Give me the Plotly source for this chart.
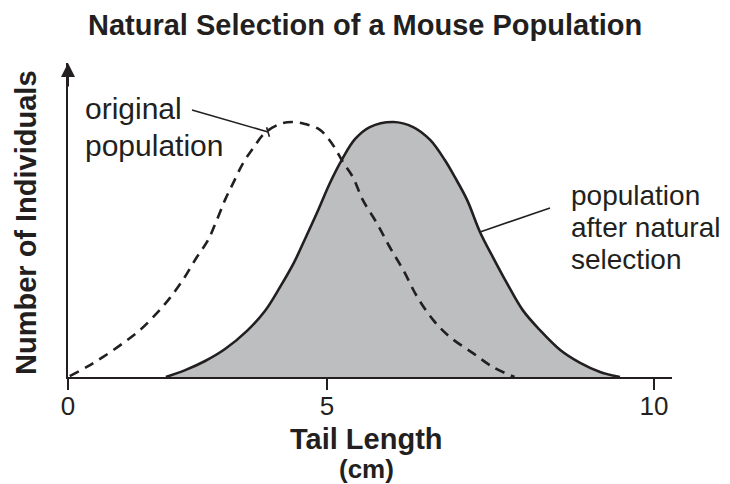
import plotly.graph_objects as go

# ---- data (x in axis units, y in relative counts 0-100) ----
orig_x = [0.03, 0.32, 0.60, 0.94, 1.23, 1.52, 1.74, 1.96, 2.20, 2.39, 2.54, 2.68, 2.82, 2.99,
          3.16, 3.36, 3.62, 3.82, 4.04, 4.30, 4.52, 4.69, 4.86, 5.03, 5.27, 5.49, 5.72, 5.96,
          6.23, 6.52, 6.91, 7.25, 7.62]
orig_y = [0.3, 3.2, 6.4, 10.8, 15.0, 20.4, 25.2, 30.9, 38.2, 43.6, 50.0, 56.4, 61.8, 68.2,
          72.9, 77.7, 80.6, 81.2, 80.6, 78.7, 73.9, 68.5, 63.7, 56.4, 49.0, 41.4, 34.1, 25.5,
          18.2, 12.7, 7.6, 3.2, 0.0]

sel_x = [1.67, 2.00, 2.34, 2.68, 3.05, 3.36, 3.62, 3.86, 4.06, 4.27, 4.47, 4.68, 4.90, 5.15,
         5.55, 5.89, 6.18, 6.43, 6.60, 6.81, 7.03, 7.25, 7.49, 7.76, 8.05, 8.40, 8.74, 9.08, 9.42]
sel_y = [0.0, 2.2, 5.1, 8.9, 14.6, 21.0, 28.7, 36.6, 44.6, 53.2, 61.8, 69.4, 75.8, 79.6,
         81.2, 79.6, 75.5, 69.1, 63.7, 56.4, 46.2, 38.2, 29.9, 21.3, 15.0, 8.6, 4.5, 1.6, 0.0]

tick_vals = [0, 4.42, 10]
tick_text = ["0", "5", "10"]

title_text = "Natural Selection of a Mouse Population"
x_title = "Tail Length"
x_unit = "(cm)"
y_title = "Number of Individuals"
label_orig = ["original", "population"]
label_sel = ["population", "after natural", "selection"]

INK = "#231f20"
FILL = "#bcbec0"
FONT = "Liberation Sans, Arial, sans-serif"

# the page body adds an 8px offset; size the figure so it fits the 730x484 window
OFF = 8
W, H = 730 - OFF, 484 - OFF
PL, PR, PT, PB = 68, 672, 63, 377          # plot area in window pixels
L, T = PL - OFF, PT - OFF
R, B = W - (PR - OFF), H - (PB - OFF)
PW, PH = PR - PL, PB - PT


def px(xp):
    return (xp - PL) / PW


def py(yp):
    return (PB - yp) / PH


fig = go.Figure()
fig.add_trace(go.Scatter(
    x=sel_x, y=sel_y, mode="lines", line=dict(color=INK, width=2.6, shape="spline", smoothing=1),
    fill="tozeroy", fillcolor=FILL, hoverinfo="skip", showlegend=False))
fig.add_trace(go.Scatter(
    x=orig_x, y=orig_y, mode="lines",
    line=dict(color=INK, width=2.6, dash="10px,7px", shape="spline", smoothing=1),
    hoverinfo="skip", showlegend=False))

ann = []
ann.append(dict(text="<b>" + title_text + "</b>", xref="paper", yref="paper", x=px(365), y=py(25),
                xanchor="center", yanchor="middle", showarrow=False, font=dict(size=29, color=INK)))
ann.append(dict(text="<b>" + y_title + "</b>", xref="paper", yref="paper", x=px(26), y=py(223),
                xanchor="center", yanchor="middle", textangle=-90, showarrow=False,
                font=dict(size=29, color=INK)))
ann.append(dict(text="<b>" + x_title + "</b>", xref="paper", yref="paper", x=px(366), y=py(439),
                xanchor="center", yanchor="middle", showarrow=False, font=dict(size=29, color=INK)))
ann.append(dict(text="<b>" + x_unit + "</b>", xref="paper", yref="paper", x=px(366), y=py(469),
                xanchor="center", yanchor="middle", showarrow=False, font=dict(size=26, color=INK)))
for t, yy in zip(label_orig, [108, 145]):
    ann.append(dict(text=t, xref="paper", yref="paper", x=px(83), y=py(yy), xanchor="left",
                    yanchor="middle", showarrow=False, font=dict(size=30, color=INK)))
for t, yy in zip(label_sel, [195, 227, 259]):
    ann.append(dict(text=t, xref="paper", yref="paper", x=px(569), y=py(yy), xanchor="left",
                    yanchor="middle", showarrow=False, font=dict(size=28, color=INK)))
# y-axis arrow head
ann.append(dict(text="", x=0, y=100, ax=0, ay=92, xref="x", yref="y", axref="x", ayref="y",
                showarrow=True, arrowhead=2, arrowsize=1.4, arrowwidth=2, arrowcolor=INK, standoff=0))

shapes = [
    dict(type="line", xref="paper", yref="paper", x0=px(192), y0=py(110), x1=px(268), y1=py(132),
         line=dict(color=INK, width=1.6)),
    dict(type="line", xref="paper", yref="paper", x0=px(266.6), y0=py(127.2), x1=px(269.4), y1=py(136.8),
         line=dict(color=INK, width=1.6)),
    dict(type="line", xref="paper", yref="paper", x0=px(550), y0=py(208), x1=px(480), y1=py(232),
         line=dict(color=INK, width=1.6)),
]

fig.update_layout(
    width=W, height=H, margin=dict(l=L, r=R, t=T, b=B),
    paper_bgcolor="white", plot_bgcolor="white",
    font=dict(family=FONT, color=INK),
    annotations=ann, shapes=shapes, showlegend=False,
    xaxis=dict(range=[0, PW / 58.6], showgrid=False, zeroline=False, showline=True,
               linecolor=INK, linewidth=2, ticks="outside", ticklen=11, tickwidth=2,
               tickcolor=INK, tickvals=tick_vals, ticktext=tick_text, ticklabelstandoff=-6,
               tickfont=dict(size=26, color=INK, family=FONT), fixedrange=True),
    yaxis=dict(range=[0, 100], showgrid=False, zeroline=False, showline=True,
               linecolor=INK, linewidth=2, ticks="", showticklabels=False, fixedrange=True),
)

fig.write_html("out.html")
